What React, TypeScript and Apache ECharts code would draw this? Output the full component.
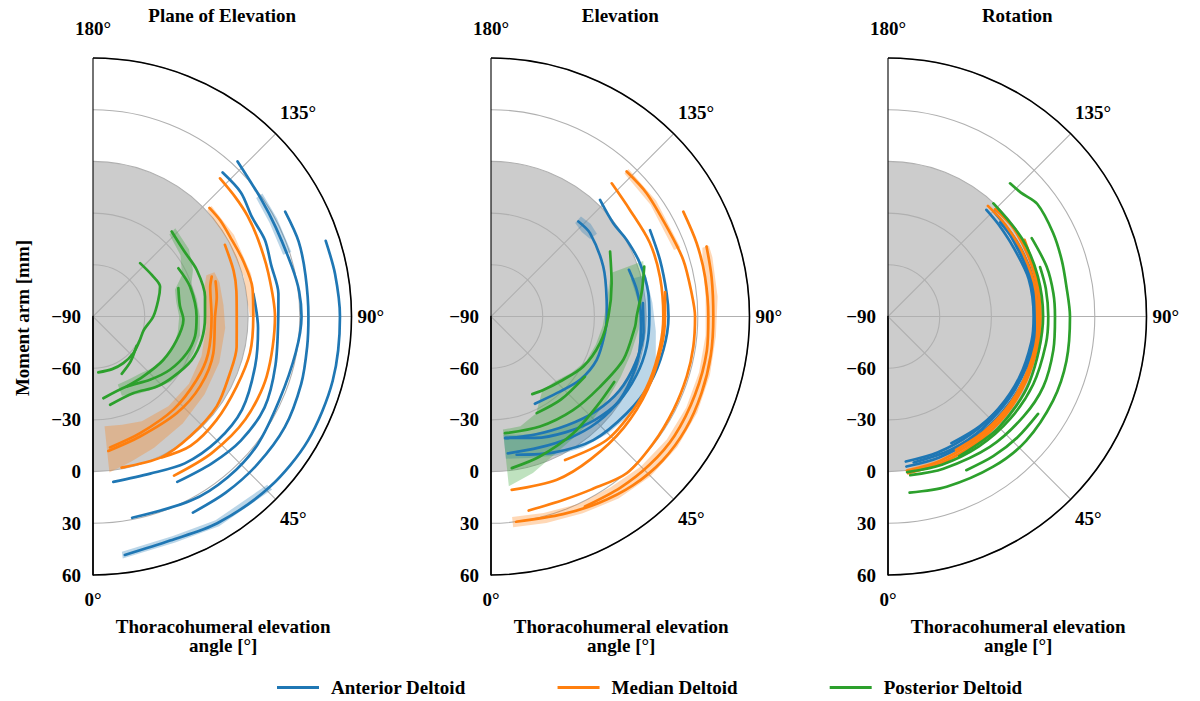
import React, { useEffect, useRef } from 'react';
import * as echarts from 'echarts';

const BLUE = '#1f77b4';
const ORANGE = '#ff7f0e';
const GREEN = '#2ca02c';
const BAND = ['rgba(31,119,180,0.3)', 'rgba(255,127,14,0.3)', 'rgba(44,160,44,0.3)'];
const FONT = '"Liberation Serif", "Times New Roman", serif';

const panelTitles = ['Plane of Elevation', 'Elevation', 'Rotation'];
const muscles = ['Anterior Deltoid', 'Median Deltoid', 'Posterior Deltoid'];
const muscleColors = [BLUE, ORANGE, GREEN];
const xAxisTitle = 'Thoracohumeral elevation\nangle [°]';
const yAxisTitle = 'Moment arm [mm]';
const radiusMin = -90;
const radiusMax = 60;
const radiusStep = 30;
const angleMin = 0;
const angleMax = 180;
const angleStep = 45;
const negativeLimit = 0; // shaded region: moment arm below 0 mm

// Each curve: [thoracohumeral elevation angle (deg), moment arm (mm)]
// ---- Plane of Elevation ----
const peAnterior = [
  [[7.6, 49.6], [19, 47.5], [31, 50], [46, 52.5], [60, 54], [75, 54], [90, 53.3], [100, 52.6], [108, 52]],
  [[11, 29], [28, 31], [40, 31.7], [52, 31], [66, 28.5], [80, 29.5], [90, 31], [97, 30.5], [104, 29], [116, 28], [125, 29], [137, 33]],
  [[27, 37.7], [37, 38], [48, 38.3], [60, 38.5], [72, 37], [82, 35.5], [90, 35], [101, 35.6], [110, 37], [118.6, 37]],
  [[7, 6.7], [20, 7], [32, 10.5], [45, 12], [58, 12], [73, 8.4], [86, 6], [98, 4]],
  [[27, 17.7], [39, 19.6], [50, 22], [62, 22.7], [75, 19.6], [90, 17.5], [97, 18.4], [106, 17.6], [114, 19.2], [122, 18.8], [130, 22], [138, 22.4]],
];
const peMedian = [
  [[6.5, -11.5], [21.4, -15.2], [41, -15.8], [57, -15.8], [73, -17], [90, -19.2], [99, -17.3], [106, -16]],
  [[7.4, -13.4], [22, -17], [41, -18.6], [58.6, -19.5], [72, -19.8], [90, -21.2], [104, -19.9], [108.6, -17.3]],
  [[10.7, -0.8], [26, 0.8], [39, -0.5], [54, -1.3], [67.5, -4], [78, -4.8], [90, -6.6], [100, -5.5], [108, -4.2], [118.5, -2.9]],
  [[26, 1], [37, 4], [50, 3.5], [64, 2.7], [77, 3.5], [90, 3], [100, 4], [110, 3], [119, 2], [127, 2.5], [133, 2.4]],
  [[27, 13.6], [41, 15], [56, 16.7], [71, 16.6], [90, 15.6], [104, 14.8], [115, 15.7], [123, 17], [130, 17.8], [137.4, 18.9]],
];
const pePosterior = [
  [[5.4, -57.4], [20, -57.5], [33, -57.7], [48, -58.4], [62, -59.5], [75, -59.5], [90, -55], [104, -51], [114, -47.4], [125, -48.2], [138.6, -48.7]],
  [[26.6, -52.8], [40, -56], [56, -59.5]],
  [[7.2, -42.2], [25.7, -44.9], [42, -40.6], [55.3, -35.7], [68.6, -31.6], [79, -29.7], [90, -29.9], [107, -31.1], [119.5, -33.1]],
  [[11, -37.8], [28, -39.7], [42, -35.1], [53, -31.8], [66, -27.5], [78, -25.5], [90, -25], [100, -24], [114, -24], [126, -24.9], [137.2, -22.8]],
  [[25.7, -44.9], [40, -44.6], [58, -42.1], [74, -39.6], [88, -37.5], [97, -39.2], [108.4, -37.8]],
];
// bands: [angle, lower, upper]
const peBandAnterior = [
  [[7, 47.5, 51.5], [20, 45.5, 49.5], [31, 48, 52], [46, 50.5, 54.5]],
  [[108, 26, 31], [118, 26, 31], [126, 27, 31.5]],
];
const peBandMedian = [
  [[6, -26, 1], [15, -25, -3], [25, -23, -6], [40, -22, -9], [55, -22, -11], [70, -23, -12], [85, -24, -13], [95, -25, -14], [105, -23, -14], [110, -20, -15]],
  [[90, 1, 5], [105, 0.5, 5], [120, 0, 4.5], [133, 0.5, 4]],
];
const peBandPosterior = [
  [[20, -48, -41], [30, -48, -38], [40, -47, -35], [50, -44, -31], [60, -41, -29], [70, -40, -28], [80, -40, -27], [90, -40, -28], [100, -41, -29], [108, -40, -30], [115, -33, -26], [125, -28, -22], [137, -25, -20]],
];

// ---- Elevation ----
const elAnterior = [
  [[26.7, -33.3], [40.6, -31.4], [54.6, -26.6], [67.7, -23.7], [81.7, -23.2], [90, -22.8], [98.2, -22.2], [114, -18.7], [130, -14.9], [137.4, -15.1]],
  [[7, -19], [20, -15], [33, -10], [45, -5], [56, -1], [68, 1], [79, 2], [90, 1.9], [98.4, 2.3], [109.6, 1.8], [119.4, 0.4], [127.3, -0.8], [136.9, 2.6]],
  [[7, -10], [20, -9], [33, -6], [45, -3], [57, -1], [70, -1], [80, -2], [90, -3], [100, -4], [108.7, -5.5]],
  [[10.5, -8.4], [25, -3], [39.6, 3.1], [54.5, 6.7], [67, 10.1], [79, 11.9], [90, 13], [97.5, 12.8], [108.5, 13.4], [118.5, 15]],
  [[6.6, -18.9], [20, -17], [35, -13], [48, -8], [60, -4], [72, -2], [84, -1], [95, -1.5]],
];
const elMedian = [
  [[11, 24.7], [21.5, 24.4], [30, 26], [41, 30.3], [52, 29.5], [63, 28.9], [73, 28.8], [81.5, 28.7], [90, 28.4], [96.6, 27.2], [106.4, 26.3], [117, 24.5], [128.4, 25.2], [136.9, 25.2]],
  [[27.3, 3.7], [43, 8.2], [57, 8.8], [68, 9.3], [80, 9.6], [90, 10], [103, 10.7], [115, 11.6], [127.5, 11.6], [137.8, 14.3]],
  [[26.3, 33], [37, 34.5], [47, 36], [57, 37], [69, 36.8], [81, 36.8], [90, 36.1], [100.5, 36.3], [109.6, 36.7], [118.6, 37.1]],
  [[7, 30], [20, 32], [30, 35], [40, 38], [50, 40], [60, 40.5], [70, 40], [80, 39.5], [90, 39], [100, 40], [108, 41.5]],
  [[6.8, 11.3], [22, 12.1], [35, 11], [50, 10.5], [65, 10.3], [80, 10.5], [90, 11], [98, 12]],
];
const elPosterior = [
  [[28, -39], [35, -37.7], [46.7, -35], [61.6, -29.1], [76.3, -24.9], [90, -21.9], [105.4, -17.4], [118.6, -11.3]],
  [[25.3, -28], [40, -27], [57.4, -25.3]],
  [[6.8, -21.8], [24, -20.1], [41, -17.8], [57, -14.8], [72, -9.2], [86, -6.2], [90, -5.5], [100, -1], [108, 3.5]],
  [[7.8, -1.2], [19, -3.9], [35, -7.1], [50, -9.5], [62, -9]],
];
const elBandAnterior = [
  [[6, -21, -7], [15, -19, -5], [25, -16, -1], [35, -13, 3], [45, -9, 6], [55, -5, 9], [65, -3, 10], [75, -2, 9], [85, -3, 6], [95, -4, 4], [105, -6, 3]],
  [[128, -17, -12], [133, -18, -11], [138, -17, -12]],
];
const elBandMedian = [
  [[6, 27, 33], [15, 28, 34], [25, 30, 36], [35, 31, 39], [45, 33, 41], [55, 34.5, 42], [65, 35, 42], [75, 35, 41.5], [85, 35, 41], [95, 35, 42], [105, 37, 43], [108, 39, 43]],
  [[110, 23, 27], [125, 23, 27], [137, 23.5, 27]],
];
const elBandPosterior = [
  [[6, -24, 9], [15, -24, 4], [25, -28, -2], [35, -38, -5], [45, -37, -6], [55, -33, -7], [65, -29, -7], [75, -27, -6], [85, -25, -4], [95, -23, -2], [105, -19, 2], [110, -16, 4]],
];

// ---- Rotation ----
const roAnterior = [
  [[7, -5.2], [20, -6], [35, -6.5], [50, -6.5], [65, -6], [80, -5.5], [90, -5.5], [105, -5.5], [119, -6.9], [130, -6.5], [137.3, -5.8]],
  [[7, -2.3], [20, -3], [35, -3.5], [50, -3.5], [65, -3], [80, -3], [90, -3], [105, -3], [120, -3.5], [135, -3.5]],
  [[26.6, -7.8], [40, -7], [55, -6], [70, -5], [85, -4.5], [95, -4.5], [110, -5], [125, -4.5]],
  [[10, -4], [25, -4.5], [40, -5], [60, -5], [80, -4], [95, -4], [115, -4], [130, -5]],
];
const roMedian = [
  [[7.3, 1.6], [20, 0.5], [35, -0.5], [50, -1], [65, -1.5], [80, -1.5], [90, -1.5], [105, -1], [119.3, 0.9]],
  [[27, -3.1], [40, -3], [55, -3], [70, -3], [85, -3], [100, -3], [115, -3.5], [128, -3.5], [137.9, -3.5]],
  [[7, 0], [20, -1], [40, -2], [60, -2], [80, -2], [95, -2], [110, -1.5], [125, -1], [135, -2]],
];
const roPosterior = [
  [[7, 13], [19, 14.5], [35, 16.4], [48, 17.8], [63, 17.5], [76, 16.7], [90, 15.6], [100, 15], [108, 16], [117, 17.4], [127, 18.5], [133, 15.4], [137.5, 14.8]],
  [[27, 10.1], [37, 11.5], [47, 12.8], [57, 13.8]],
  [[8, 3], [20, 4], [38, 6], [53.5, 7.7], [65.7, 8.9], [78.5, 7.9], [90, 6.9], [98, 6.9], [107.4, 6.5], [118.6, 5]],
  [[7, 1], [20, 1.5], [35, 2], [50, 2.5], [65, 3], [80, 3], [90, 3], [100, 3], [108, 2.8]],
  [[27, 1], [45, 1], [65, 0.5], [90, 0], [105, 0], [120, 0], [137, -0.3]],
];
const roBandAnterior: number[][][] = [];
const roBandMedian = [
  [[7, -1, 2.5], [20, -2, 1.5], [35, -2.5, 0.5]],
];
const roBandPosterior: number[][][] = [];

const panels = [
  { lines: [peAnterior, peMedian, pePosterior], bands: [peBandAnterior, peBandMedian, peBandPosterior] },
  { lines: [elAnterior, elMedian, elPosterior], bands: [elBandAnterior, elBandMedian, elBandPosterior] },
  { lines: [roAnterior, roMedian, roPosterior], bands: [roBandAnterior, roBandMedian, roBandPosterior] },
];

// layout
const PANEL_CX = [93, 491, 888];
const PANEL_CY = 316.5;
const PANEL_R = 258.5;

const baseText = { fontFamily: FONT, fontWeight: 'bold' as const, fontSize: 19, color: '#000' };

function fmtRadius(v: number) {
  return v < 0 ? '\u2212' + Math.abs(v) : String(v);
}

function fmtAngle(v: number) {
  if (v === 0) return `{b|${v}°}`;
  if (v === 45) return `{s|${v}°}`;
  if (v === 135) return `{n|${v}°}`;
  if (v === 180) return `{t|${v}°}`;
  return `${v}°`;
}

function buildOption() {
  const polar = PANEL_CX.map((cx) => ({ center: [cx, PANEL_CY], radius: PANEL_R }));
  const angleAxis = PANEL_CX.map((_, i) => ({
    polarIndex: i,
    type: 'value',
    min: angleMin,
    max: angleMax,
    interval: angleStep,
    startAngle: -90,
    endAngle: 90,
    clockwise: false,
    z: 0,
    axisLine: { show: true, lineStyle: { color: '#000', width: 1.6 } },
    axisTick: { show: false },
    axisLabel: {
      show: true,
      margin: 6,
      showMinLabel: true,
      showMaxLabel: true,
      ...baseText,
      formatter: fmtAngle,
      rich: {
        b: { ...baseText, padding: [9, 0, 0, 0] },
        s: { ...baseText, padding: [5, 0, 0, 0] },
        n: { ...baseText, padding: [0, 0, 7, 0] },
        t: { ...baseText, padding: [0, 0, 14, 0] },
      },
    },
    splitLine: { show: true, lineStyle: { color: ['#000', '#b0b0b0', '#b0b0b0', '#b0b0b0', '#000'], width: 1.1 } },
  }));
  const radiusAxis = PANEL_CX.map((_, i) => ({
    polarIndex: i,
    type: 'value',
    min: radiusMin,
    max: radiusMax,
    interval: radiusStep,
    z: 0,
    axisLine: { show: true, lineStyle: { color: '#000', width: 1.6 } },
    axisTick: { show: false },
    axisLabel: {
      show: true,
      margin: -12,
      align: 'right',
      verticalAlign: 'middle',
      showMinLabel: true,
      showMaxLabel: true,
      ...baseText,
      formatter: fmtRadius,
    },
    splitLine: { show: true, lineStyle: { color: '#b0b0b0', width: 1.1 } },
  }));

  const series: any[] = [];
  panels.forEach((panel, p) => {
    series.push({
      type: 'custom',
      coordinateSystem: 'polar',
      polarIndex: p,
      silent: true,
      z: -5,
      data: [[negativeLimit, angleMin]],
      renderItem: (_params: any, api: any) => {
        const c = api.coord([radiusMin, angleMin]);
        const e = api.coord([negativeLimit, (angleMin + angleMax) / 2]);
        const r = Math.hypot(e[0] - c[0], e[1] - c[1]);
        return {
          type: 'sector',
          shape: { cx: c[0], cy: c[1], r0: 0, r, startAngle: -Math.PI / 2, endAngle: Math.PI / 2, clockwise: true },
          style: { fill: '#cccccc' },
        };
      },
    });
    panel.bands.forEach((bandGroup, m) => {
      bandGroup.forEach((band) => {
        series.push({
          type: 'custom',
          coordinateSystem: 'polar',
          polarIndex: p,
          silent: true,
          z: 1,
          data: band.map(([a, , hi]) => [hi, a]),
          renderItem: (params: any, api: any) => {
            if (params.dataIndex !== 0) return null;
            const upper = band.map(([a, , hi]) => api.coord([hi, a]));
            const lower = band.map(([a, lo]) => api.coord([lo, a])).reverse();
            return {
              type: 'polygon',
              shape: { points: upper.concat(lower) },
              style: { fill: BAND[m], stroke: null },
            };
          },
        });
      });
    });
    panel.lines.forEach((group, m) => {
      group.forEach((line) => {
        series.push({
          type: 'line',
          name: muscles[m],
          coordinateSystem: 'polar',
          polarIndex: p,
          data: line.map(([a, v]) => [v, a]),
          showSymbol: false,
          symbol: 'none',
          smooth: 0.3,
          clip: false,
          silent: true,
          color: muscleColors[m],
          lineStyle: { width: 2.7, color: muscleColors[m], cap: 'round' },
          z: 3,
        });
      });
    });
  });

  const textStyle = (text: string, extra: any = {}) => ({
    text,
    fill: '#000',
    font: `bold 19px ${FONT}`,
    fontFamily: FONT,
    fontWeight: 'bold',
    fontSize: 19,
    align: 'center',
    verticalAlign: 'middle',
    textAlign: 'center',
    textVerticalAlign: 'middle',
    ...extra,
  });

  const graphic: any[] = [];
  PANEL_CX.forEach((cx, i) => {
    graphic.push({ type: 'text', x: cx + PANEL_R / 2, y: 15, style: textStyle(panelTitles[i]), silent: true });
    graphic.push({
      type: 'text',
      x: cx + PANEL_R / 2 + 1,
      y: 636,
      style: textStyle(xAxisTitle, { lineHeight: 19 }),
      silent: true,
    });
  });
  graphic.push({ type: 'text', x: 22, y: 318, rotation: Math.PI / 2, style: textStyle(yAxisTitle), silent: true });

  return {
    animation: false,
    backgroundColor: '#fff',
    polar,
    angleAxis,
    radiusAxis,
    legend: {
      data: muscles.map((name) => ({ name, icon: 'rect' })),
      left: 277,
      top: 678,
      padding: 0,
      itemWidth: 42,
      itemHeight: 3,
      itemGap: 92,
      selectedMode: false,
      textStyle: { ...baseText, padding: [0, 0, 0, 7] },
    },
    graphic,
    series,
  };
}

export default function App() {
  const ref = useRef<HTMLDivElement>(null);
  useEffect(() => {
    if (!ref.current) return;
    const chart = echarts.init(ref.current, undefined, { renderer: 'svg' });
    chart.setOption(buildOption() as any);
    return () => chart.dispose();
  }, []);
  return <div ref={ref} style={{ position: 'absolute', left: 0, top: 0, width: 1200, height: 701 }} />;
}
